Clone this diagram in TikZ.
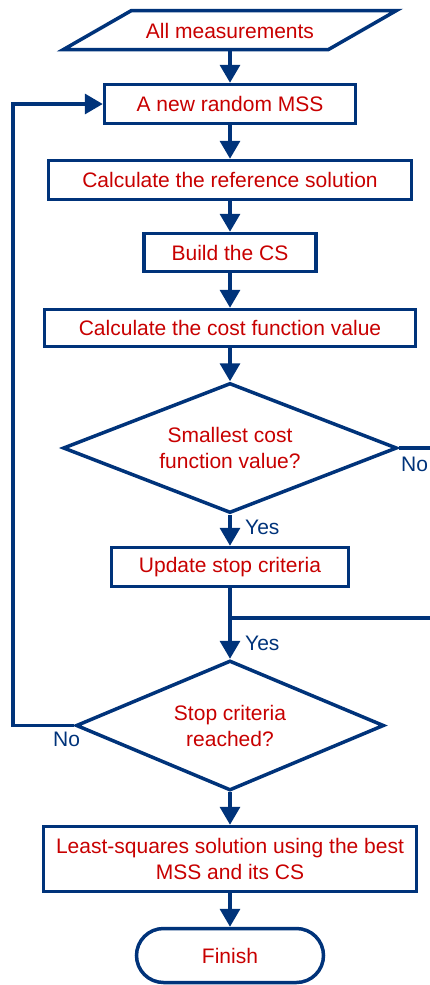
\documentclass[tikz,border=0pt]{standalone}
\usepackage{fontspec}
\setmainfont{Liberation Sans}
\usetikzlibrary{shapes.geometric,arrows.meta}
\definecolor{fblue}{RGB}{0,51,122}
\definecolor{fred}{RGB}{200,0,0}
\tikzset{
  fline/.style={draw=fblue,line width=3.5pt},
  arr/.style={fline,-{Triangle[length=18pt,width=20pt]}},
  procbox/.style={fline,fill=white,rectangle,inner sep=0pt,text=fred,align=center,
    font=\fontsize{21}{26}\selectfont},
  decbox/.style={fline,fill=white,diamond,inner sep=0pt,text=fred,align=center,
    font=\fontsize{21}{26}\selectfont},
  lbl/.style={text=fblue,font=\fontsize{21}{26}\selectfont,inner sep=0pt},
}
\begin{document}
\begin{tikzpicture}[x=1pt,y=-1pt]
\useasboundingbox (0,0) rectangle (430,985);
% input parallelogram
\draw[fline,line join=miter] (131.5,10.5) -- (396.5,10.5) -- (328.5,49.5) -- (63.5,49.5) -- cycle;
\node[text=fred,font=\fontsize{21}{26}\selectfont,inner sep=0pt] (in) at (230,31) {All measurements};
\coordinate (inb) at (230,51);
% boxes
\node[procbox,minimum width=251pt,minimum height=39pt] (b1) at (230,104) {A new random MSS};
\node[procbox,minimum width=363pt,minimum height=39pt] (b2) at (230,180) {Calculate the reference solution};
\node[procbox,minimum width=172pt,minimum height=38pt] (b3) at (230,252.5) {Build the CS};
\node[procbox,minimum width=371pt,minimum height=37pt] (b4) at (230,328) {Calculate the cost function value};
\node[decbox,aspect=2.57,minimum width=334pt,minimum height=130pt] (d1) at (230,448) {Smallest cost\\function value?};
\node[procbox,minimum width=237pt,minimum height=39pt] (b5) at (230,567) {Update stop criteria};
\node[decbox,aspect=2.37,minimum width=308pt,minimum height=130pt] (d2) at (230,725.5) {Stop criteria\\reached?};
\node[procbox,minimum width=373pt,minimum height=65pt] (b6) at (230,859) {Least-squares solution using the best\\MSS and its CS};
\node[procbox,rounded corners=27pt,minimum width=187pt,minimum height=54pt] (fin) at (230,955.5) {Finish};
% connectors
\draw[arr] (inb) -- (b1);
\draw[arr] (b1) -- (b2);
\draw[arr] (b2) -- (b3);
\draw[arr] (b3) -- (b4);
\draw[arr] (b4) -- (d1);
\draw[arr] (d1) -- (b5);
\draw[arr] (b5) -- (d2);
\draw[arr] (d2) -- (b6);
\draw[arr] (b6) -- (fin);
\coordinate (noout) at (432,448);
\coordinate (noin) at (432,618);
\coordinate (join) at (230,618);
\draw[fline] (d1.east) -- (noout);
\draw[fline] (noin) -- (join);
\coordinate (loopb) at (13,725.5);
\coordinate (loopt) at (13,104);
\draw[arr,line join=miter] (d2.west) -- (loopb) -- (loopt) -- (b1.west);
% labels
\node[lbl,anchor=west] (lno1) at (401,464) {No};
\node[lbl,anchor=west] (lyes1) at (245,527) {Yes};
\node[lbl,anchor=west] (lyes2) at (245,643) {Yes};
\node[lbl,anchor=west] (lno2) at (53,739) {No};
\end{tikzpicture}
\end{document}
